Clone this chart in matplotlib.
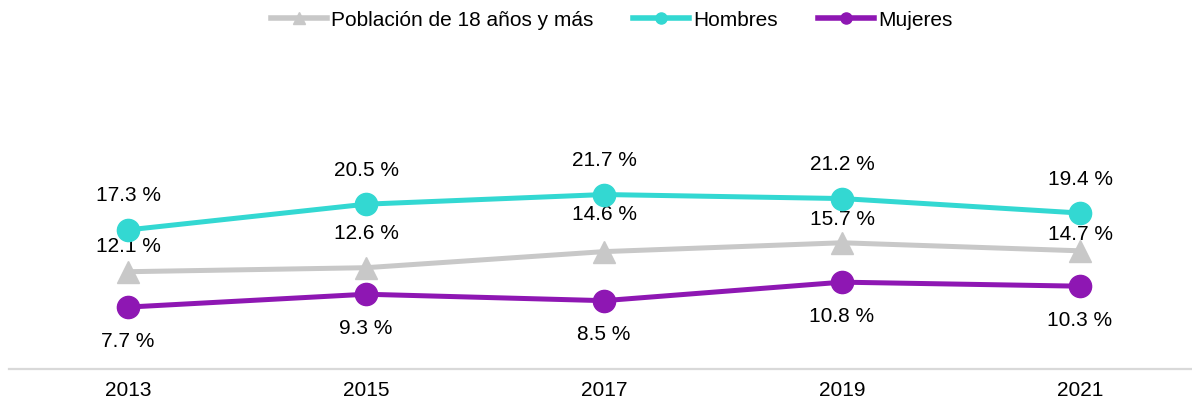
import matplotlib
matplotlib.use("Agg")
import matplotlib.pyplot as plt
from matplotlib.lines import Line2D

years = ["2013", "2015", "2017", "2019", "2021"]
poblacion = [12.1, 12.6, 14.6, 15.7, 14.7]
hombres = [17.3, 20.5, 21.7, 21.2, 19.4]
mujeres = [7.7, 9.3, 8.5, 10.8, 10.3]
series_names = ["Población de 18 años y más", "Hombres", "Mujeres"]

plt.rcParams['font.family'] = ['Liberation Sans', 'DejaVu Sans']

c_gray = "#C8C8C8"
c_cyan = "#33D8D2"
c_purple = "#8E17B3"

fig = plt.figure(figsize=(11.92, 4.05), dpi=100)
ax = fig.add_axes([9/1192, 36/405, 1190/1192, 201/405])

x = list(range(len(years)))
lw = 3.6
ax.plot(x, poblacion, color=c_gray, lw=lw, marker="^", markersize=16, zorder=3)
ax.plot(x, hombres, color=c_cyan, lw=lw, marker="o", markersize=16, zorder=4)
ax.plot(x, mujeres, color=c_purple, lw=lw, marker="o", markersize=16, zorder=4)

fs = 15
px = 0.72
gray_off = [25, 34, 37, 23, 16]
for i in x:
    ax.annotate(f"{hombres[i]:.1f} %", (i, hombres[i]), xytext=(0, 34*px),
                textcoords="offset points", ha="center", va="center", fontsize=fs)
    ax.annotate(f"{poblacion[i]:.1f} %", (i, poblacion[i]), xytext=(0, gray_off[i]*px),
                textcoords="offset points", ha="center", va="center", fontsize=fs)
    ax.annotate(f"{mujeres[i]:.1f} %", (i, mujeres[i]), xytext=(0, -34*px),
                textcoords="offset points", ha="center", va="center", fontsize=fs)

ax.set_xlim(-0.5, 4.5)
ax.set_ylim(0, 25)
ax.set_xticks(x)
ax.set_xticklabels(years, fontsize=fs)
ax.tick_params(axis="x", length=0, pad=9)
ax.set_yticks([])
for s in ["top", "right", "left"]:
    ax.spines[s].set_visible(False)
ax.spines["bottom"].set_color("#D9D9D9")
ax.spines["bottom"].set_linewidth(1.6)

handles = [
    Line2D([], [], color=c_gray, lw=4, marker="^", markersize=8),
    Line2D([], [], color=c_cyan, lw=4, marker="o", markersize=8),
    Line2D([], [], color=c_purple, lw=4, marker="o", markersize=8),
]
fig.legend(handles, series_names, loc="center", bbox_to_anchor=(0.513, 1 - 20/405),
           ncol=3, frameon=False, fontsize=fs, handlelength=2.7, handletextpad=0.2,
           columnspacing=1.9)

fig.savefig("out.png", dpi=100)
